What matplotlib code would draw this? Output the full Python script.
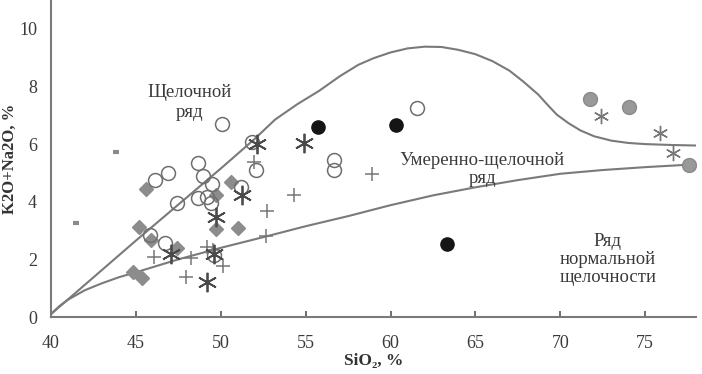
# TAS-style diagram: K2O+Na2O vs SiO2
import numpy as np
import matplotlib.pyplot as plt

plt.rcParams['font.family'] = ['Liberation Serif', 'DejaVu Serif']

# boundary lines
upper_x = [40, 45, 50, 52, 53.2, 54.5, 55.8, 57, 58.1, 59, 60, 61, 62, 63, 64, 65,
           66, 67, 67.8, 68.7, 69.3, 69.8, 70.5, 71.2, 72, 73, 74, 75, 76.5, 78]
upper_y = [0.1, 2.65, 5.15, 6.18, 6.85, 7.38, 7.85, 8.35, 8.75, 8.98, 9.18, 9.32, 9.38,
           9.37, 9.27, 9.12, 8.88, 8.55, 8.18, 7.72, 7.33, 7.02, 6.72, 6.47, 6.27, 6.12,
           6.04, 6.0, 5.97, 5.95]
lower_x = [40, 40.5, 41, 42, 43, 44, 45, 47.5, 50, 52.7, 55, 57.5, 60, 62.5, 65,
           67.5, 70, 72.5, 75, 78]
lower_y = [0.1, 0.38, 0.6, 0.93, 1.17, 1.38, 1.55, 2.0, 2.4, 2.8, 3.15, 3.5, 3.88,
           4.22, 4.5, 4.75, 4.97, 5.1, 5.2, 5.3]

# data points
dash_x = [41.5, 43.85]
dash_y = [3.26, 5.74]

diam_x = [45.6, 45.2, 49.72, 50.62, 49.72, 51.0, 47.4, 44.85, 45.38, 45.9]
diam_y = [4.43, 3.13, 4.22, 4.69, 3.05, 3.1, 2.4, 1.55, 1.37, 2.68]

open_x = [50.07, 61.55, 51.85, 52.06, 56.65, 56.65, 48.66, 46.9, 46.15, 48.98,
          49.5, 48.64, 49.18, 49.42, 47.4, 45.85, 46.72, 49.62, 51.2]
open_y = [6.68, 7.24, 6.07, 5.09, 5.45, 5.09, 5.35, 5.0, 4.76, 4.91,
          4.62, 4.14, 4.15, 3.97, 3.97, 2.84, 2.56, 2.16, 4.5]

black_x = [55.73, 60.34, 63.35]
black_y = [6.59, 6.65, 2.55]

gray_x = [71.73, 74.07, 77.56]
gray_y = [7.57, 7.3, 5.26]

plus_x = [46.05, 48.27, 49.22, 49.55, 47.95, 50.12, 52.66, 52.72, 51.96, 54.3, 58.9]
plus_y = [2.09, 2.05, 2.43, 2.33, 1.39, 1.76, 2.8, 3.68, 5.37, 4.24, 4.97]

star_x = [52.15, 54.92, 51.25, 49.71, 47.08, 49.62, 49.18]
star_y = [6.02, 6.04, 4.25, 3.47, 2.2, 2.18, 1.22]

star2_x = [72.4, 75.9, 76.65]
star2_y = [6.96, 6.38, 5.69]

fig = plt.figure(figsize=(7.02, 3.74), dpi=100)
ax = fig.add_axes([0.0726, 0.1524, 0.919, 0.8476])

line_c = '#7a7a7a'
ax.plot(upper_x, upper_y, color=line_c, lw=1.5, zorder=1)
ax.plot(lower_x, lower_y, color=line_c, lw=1.5, zorder=1)

ax.plot(dash_x, dash_y, ls='none', marker='_', ms=5, mew=3, color='#8a8a8a')
ax.plot(diam_x, diam_y, ls='none', marker='D', ms=7, color='#8c8c8c', mec='#8c8c8c')
ax.plot(open_x, open_y, ls='none', marker='o', ms=10, mfc='none', mec='#6e6e6e', mew=1.1)
ax.plot(black_x, black_y, ls='none', marker='o', ms=9.5, color='#151515')
ax.plot(gray_x, gray_y, ls='none', marker='o', ms=10, color='#999999', mec='#8a8a8a')
ax.plot(plus_x, plus_y, ls='none', marker='+', ms=10, mew=1.1, color='#777777')
ax.plot(star_x, star_y, ls='none', marker=(6, 2, 0), ms=14, mew=1.3, color='#4a4a4a')
ax.plot(star2_x, star2_y, ls='none', marker=(6, 2, 0), ms=11, mew=1.0, color='#777777')

ax.text(48.15, 7.45, 'Щелочной\nряд', ha='center', va='center', fontsize=13.5,
        color='#3a3a3a', linespacing=1.25)
ax.text(65.4, 5.12, 'Умеренно-щелочной\nряд', ha='center', va='center', fontsize=13.5,
        color='#3a3a3a', linespacing=1.05)
ax.text(72.8, 2.0, 'Ряд\nнормальной\nщелочности', ha='center', va='center', fontsize=13.5,
        color='#3a3a3a', linespacing=1.1)

ax.set_xlim(40, 78)
ax.set_ylim(0, 11)
ax.set_xticks([40, 45, 50, 55, 60, 65, 70, 75])
ax.set_yticks([0, 2, 4, 6, 8, 10])
for s in ['top', 'right']:
    ax.spines[s].set_visible(False)
for s in ['left', 'bottom']:
    ax.spines[s].set_color('#7a7a7a')
    ax.spines[s].set_linewidth(1.5)
ax.tick_params(axis='x', direction='in', length=4, width=1.2, color='#555555',
               labelsize=13, pad=13, labelcolor='#3a3a3a')
ax.tick_params(axis='y', length=0, labelsize=13, pad=10, labelcolor='#3a3a3a')

ax.set_xlabel('SiO₂, %', fontsize=12.5, fontweight='bold', color='#333333', labelpad=1)
ax.set_ylabel('K2O+Na2O, %', fontsize=12, fontweight='bold', color='#333333', labelpad=1)

fig.savefig('out.png', dpi=100)
